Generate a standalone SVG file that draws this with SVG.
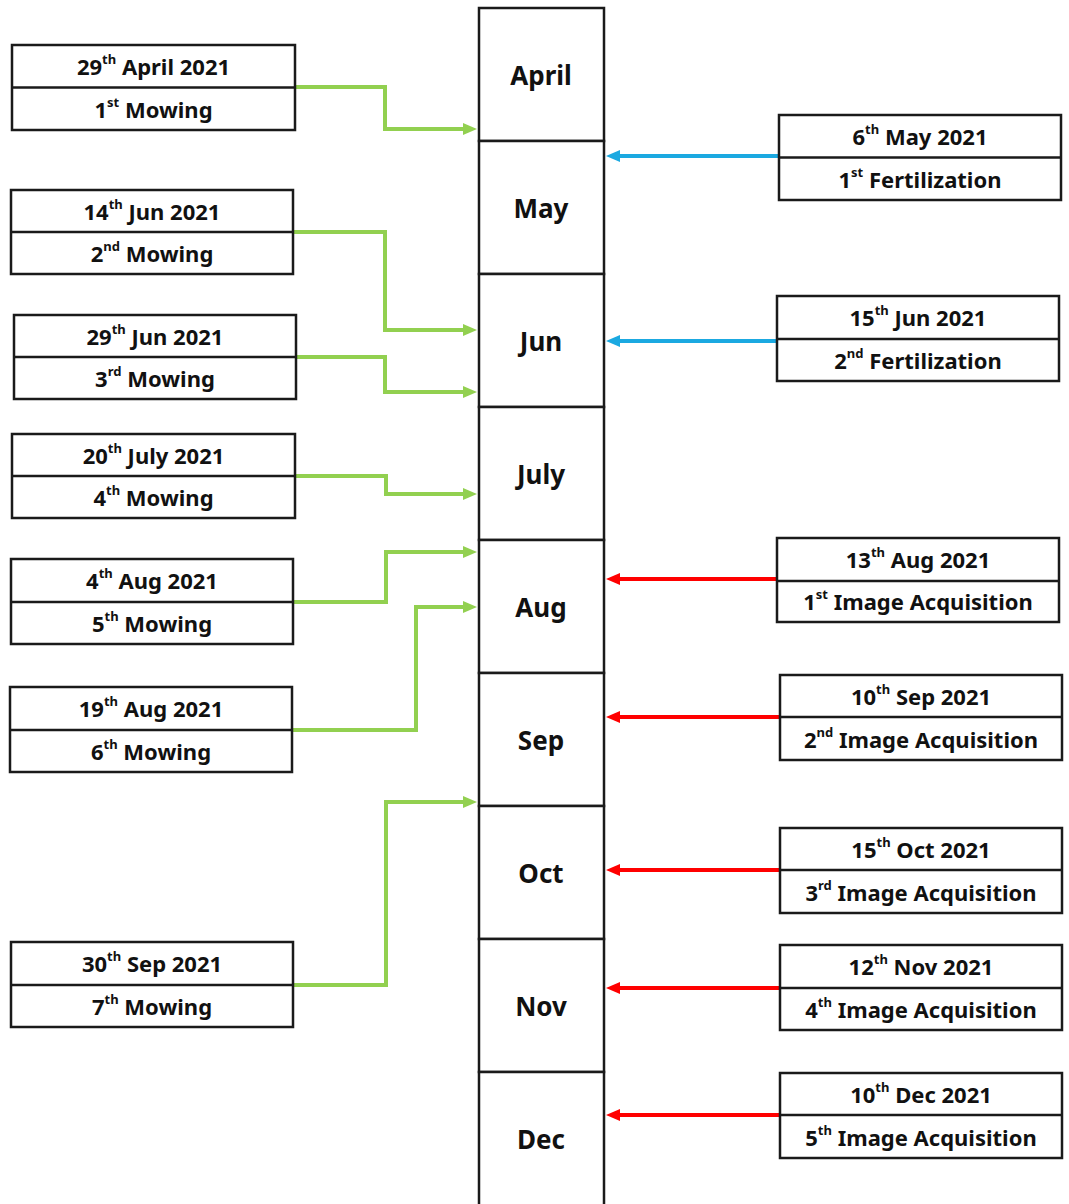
<svg xmlns="http://www.w3.org/2000/svg" width="1069" height="1204" viewBox="0 0 1069 1204">
<style>
.box{fill:#fff;stroke:#1a1a1a;stroke-width:2.5}
.t{font-family:"Noto Sans","Open Sans",sans-serif;font-weight:bold;font-size:22px;fill:#111;text-anchor:middle;dominant-baseline:central}
.m{font-family:"Noto Sans","Open Sans",sans-serif;font-weight:bold;font-size:26px;fill:#111;text-anchor:middle;dominant-baseline:central}
.sup{font-size:13px}
.g{fill:none;stroke:#92d050;stroke-width:4;marker-end:url(#ag)}
.b{fill:none;stroke:#1ba9e1;stroke-width:4;marker-end:url(#ab)}
.r{fill:none;stroke:#ff0000;stroke-width:4;marker-end:url(#ar)}
</style>
<defs>
<marker id="ag" markerUnits="userSpaceOnUse" markerWidth="14" markerHeight="12" refX="6" refY="6" orient="auto"><path d="M0,0 L14,6 L0,12 Z" fill="#92d050"/></marker>
<marker id="ab" markerUnits="userSpaceOnUse" markerWidth="14" markerHeight="12" refX="6" refY="6" orient="auto"><path d="M0,0 L14,6 L0,12 Z" fill="#1ba9e1"/></marker>
<marker id="ar" markerUnits="userSpaceOnUse" markerWidth="14" markerHeight="12" refX="6" refY="6" orient="auto"><path d="M0,0 L14,6 L0,12 Z" fill="#ff0000"/></marker>
</defs>
<rect width="1069" height="1204" fill="#fff"/>

<g id="months">
<g id="m-april"><rect class="box" x="479" y="8" width="125" height="133"/><text class="m" x="541" y="75">April</text></g>
<g id="m-may"><rect class="box" x="479" y="141" width="125" height="133"/><text class="m" x="541" y="208">May</text></g>
<g id="m-jun"><rect class="box" x="479" y="274" width="125" height="133"/><text class="m" x="541" y="341">Jun</text></g>
<g id="m-july"><rect class="box" x="479" y="407" width="125" height="133"/><text class="m" x="541" y="474">July</text></g>
<g id="m-aug"><rect class="box" x="479" y="540" width="125" height="133"/><text class="m" x="541" y="607">Aug</text></g>
<g id="m-sep"><rect class="box" x="479" y="673" width="125" height="133"/><text class="m" x="541" y="740">Sep</text></g>
<g id="m-oct"><rect class="box" x="479" y="806" width="125" height="133"/><text class="m" x="541" y="873">Oct</text></g>
<g id="m-nov"><rect class="box" x="479" y="939" width="125" height="133"/><text class="m" x="541" y="1006">Nov</text></g>
<g id="m-dec"><rect class="box" x="479" y="1072" width="125" height="140"/><text class="m" x="541" y="1139">Dec</text></g>
</g>

<g id="connectors">
<path class="g" d="M295,87 H385 V129 H469"/>
<path class="g" d="M293,232 H385 V330 H469"/>
<path class="g" d="M296,357 H385 V392 H469"/>
<path class="g" d="M295,476 H386 V494 H469"/>
<path class="g" d="M293,602 H386 V552 H469"/>
<path class="g" d="M292,730 H416 V607 H469"/>
<path class="g" d="M293,985 H386 V802 H469"/>
<path class="b" d="M778,156 H614"/>
<path class="b" d="M777,341 H614"/>
<path class="r" d="M777,579 H614"/>
<path class="r" d="M780,717 H614"/>
<path class="r" d="M780,870 H614"/>
<path class="r" d="M780,988 H614"/>
<path class="r" d="M780,1115 H614"/>
</g>

<g id="mow1"><rect class="box" x="12" y="45" width="283" height="85"/><line class="box" x1="12" y1="87.5" x2="295" y2="87.5"/>
<text class="t" x="153.5" y="66">29<tspan class="sup" dy="-7">th</tspan><tspan dy="7"> April 2021</tspan></text>
<text class="t" x="153.5" y="109">1<tspan class="sup" dy="-7">st</tspan><tspan dy="7"> Mowing</tspan></text></g>

<g id="mow2"><rect class="box" x="11" y="190" width="282" height="84"/><line class="box" x1="11" y1="232" x2="293" y2="232"/>
<text class="t" x="152" y="211">14<tspan class="sup" dy="-7">th</tspan><tspan dy="7"> Jun 2021</tspan></text>
<text class="t" x="152" y="253">2<tspan class="sup" dy="-7">nd</tspan><tspan dy="7"> Mowing</tspan></text></g>

<g id="mow3"><rect class="box" x="14" y="315" width="282" height="84"/><line class="box" x1="14" y1="357" x2="296" y2="357"/>
<text class="t" x="155" y="336">29<tspan class="sup" dy="-7">th</tspan><tspan dy="7"> Jun 2021</tspan></text>
<text class="t" x="155" y="378">3<tspan class="sup" dy="-7">rd</tspan><tspan dy="7"> Mowing</tspan></text></g>

<g id="mow4"><rect class="box" x="12" y="434" width="283" height="84"/><line class="box" x1="12" y1="476" x2="295" y2="476"/>
<text class="t" x="153.5" y="455">20<tspan class="sup" dy="-7">th</tspan><tspan dy="7"> July 2021</tspan></text>
<text class="t" x="153.5" y="497">4<tspan class="sup" dy="-7">th</tspan><tspan dy="7"> Mowing</tspan></text></g>

<g id="mow5"><rect class="box" x="11" y="559" width="282" height="85"/><line class="box" x1="11" y1="602" x2="293" y2="602"/>
<text class="t" x="152" y="580">4<tspan class="sup" dy="-7">th</tspan><tspan dy="7"> Aug 2021</tspan></text>
<text class="t" x="152" y="623">5<tspan class="sup" dy="-7">th</tspan><tspan dy="7"> Mowing</tspan></text></g>

<g id="mow6"><rect class="box" x="10" y="687" width="282" height="85"/><line class="box" x1="10" y1="730" x2="292" y2="730"/>
<text class="t" x="151" y="708">19<tspan class="sup" dy="-7">th</tspan><tspan dy="7"> Aug 2021</tspan></text>
<text class="t" x="151" y="751">6<tspan class="sup" dy="-7">th</tspan><tspan dy="7"> Mowing</tspan></text></g>

<g id="mow7"><rect class="box" x="11" y="942" width="282" height="85"/><line class="box" x1="11" y1="985" x2="293" y2="985"/>
<text class="t" x="152" y="963">30<tspan class="sup" dy="-7">th</tspan><tspan dy="7"> Sep 2021</tspan></text>
<text class="t" x="152" y="1006">7<tspan class="sup" dy="-7">th</tspan><tspan dy="7"> Mowing</tspan></text></g>

<g id="fert1"><rect class="box" x="779" y="115" width="282" height="85"/><line class="box" x1="779" y1="157.5" x2="1061" y2="157.5"/>
<text class="t" x="920" y="136">6<tspan class="sup" dy="-7">th</tspan><tspan dy="7"> May 2021</tspan></text>
<text class="t" x="920" y="179">1<tspan class="sup" dy="-7">st</tspan><tspan dy="7"> Fertilization</tspan></text></g>

<g id="fert2"><rect class="box" x="777" y="296" width="282" height="85"/><line class="box" x1="777" y1="339" x2="1059" y2="339"/>
<text class="t" x="918" y="317">15<tspan class="sup" dy="-7">th</tspan><tspan dy="7"> Jun 2021</tspan></text>
<text class="t" x="918" y="360">2<tspan class="sup" dy="-7">nd</tspan><tspan dy="7"> Fertilization</tspan></text></g>

<g id="img1"><rect class="box" x="777" y="538" width="282" height="84"/><line class="box" x1="777" y1="581" x2="1059" y2="581"/>
<text class="t" x="918" y="559">13<tspan class="sup" dy="-7">th</tspan><tspan dy="7"> Aug 2021</tspan></text>
<text class="t" x="918" y="601">1<tspan class="sup" dy="-7">st</tspan><tspan dy="7"> Image Acquisition</tspan></text></g>

<g id="img2"><rect class="box" x="780" y="675" width="282" height="85"/><line class="box" x1="780" y1="717" x2="1062" y2="717"/>
<text class="t" x="921" y="696">10<tspan class="sup" dy="-7">th</tspan><tspan dy="7"> Sep 2021</tspan></text>
<text class="t" x="921" y="739">2<tspan class="sup" dy="-7">nd</tspan><tspan dy="7"> Image Acquisition</tspan></text></g>

<g id="img3"><rect class="box" x="780" y="828" width="282" height="85"/><line class="box" x1="780" y1="870" x2="1062" y2="870"/>
<text class="t" x="921" y="849">15<tspan class="sup" dy="-7">th</tspan><tspan dy="7"> Oct 2021</tspan></text>
<text class="t" x="921" y="892">3<tspan class="sup" dy="-7">rd</tspan><tspan dy="7"> Image Acquisition</tspan></text></g>

<g id="img4"><rect class="box" x="780" y="945" width="282" height="85"/><line class="box" x1="780" y1="988" x2="1062" y2="988"/>
<text class="t" x="921" y="966">12<tspan class="sup" dy="-7">th</tspan><tspan dy="7"> Nov 2021</tspan></text>
<text class="t" x="921" y="1009">4<tspan class="sup" dy="-7">th</tspan><tspan dy="7"> Image Acquisition</tspan></text></g>

<g id="img5"><rect class="box" x="780" y="1073" width="282" height="85"/><line class="box" x1="780" y1="1115" x2="1062" y2="1115"/>
<text class="t" x="921" y="1094">10<tspan class="sup" dy="-7">th</tspan><tspan dy="7"> Dec 2021</tspan></text>
<text class="t" x="921" y="1137">5<tspan class="sup" dy="-7">th</tspan><tspan dy="7"> Image Acquisition</tspan></text></g>
</svg>
